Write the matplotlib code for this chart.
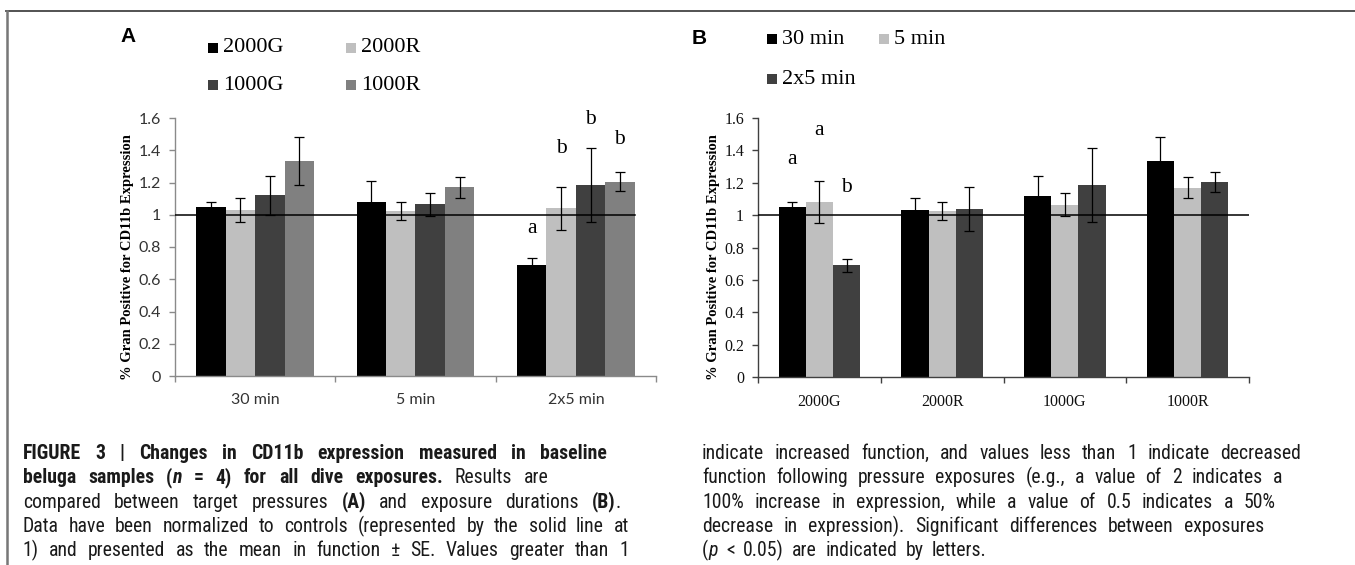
import numpy as np
import matplotlib
matplotlib.use('Agg')
import matplotlib.pyplot as plt
from matplotlib import font_manager
from matplotlib.lines import Line2D
from matplotlib.patches import Rectangle

# groups
pressures = ['2000G', '2000R', '1000G', '1000R']
durations = ['30 min', '5 min', '2x5 min']

# mean in function (normalized to control), order = durations
mean_2000g = [1.05, 1.08, 0.69]
mean_2000r = [1.03, 1.025, 1.04]
mean_1000g = [1.12, 1.065, 1.185]
mean_1000r = [1.335, 1.17, 1.205]

# standard errors, same order
se_2000g = [0.03, 0.13, 0.04]
se_2000r = [0.075, 0.055, 0.135]
se_1000g = [0.12, 0.07, 0.23]
se_1000r = [0.15, 0.065, 0.06]

yticks = [0, 0.2, 0.4, 0.6, 0.8, 1, 1.2, 1.4, 1.6]

# significance letters: (group, series, letter, height)
letters_a = [(2, 0, 'a', 0.915), (2, 1, 'b', 1.41), (2, 2, 'b', 1.59), (2, 3, 'b', 1.466)]
letters_b = [(0, 0, 'a', 1.343), (0, 1, 'a', 1.52), (0, 2, 'b', 1.168)]

pressure_colors = ['#000000', '#bfbfbf', '#404040', '#808080']
duration_colors = ['#000000', '#bfbfbf', '#404040']

means = np.array([mean_2000g, mean_2000r, mean_1000g, mean_1000r])
ses = np.array([se_2000g, se_2000r, se_1000g, se_1000r])

W, H = 1355, 565
fig = plt.figure(figsize=(W / 100, H / 100), dpi=100)


def fx(x):
    return x / W


def fy(y):
    return 1 - y / H


ax_a = fig.add_axes([fx(175), fy(376), (656 - 175) / W, (376 - 118) / H])
ax_b = fig.add_axes([fx(758), fy(377), (1249 - 758) / W, (377 - 118) / H])

err_kw = dict(ecolor='black', elinewidth=0.9, capsize=3.3, capthick=0.9)

# panel A : groups = durations, series = pressures
w_a = 0.183
xa = np.arange(len(durations))
for i, p in enumerate(pressures):
    ax_a.bar(xa + (i - 1.5) * w_a, means[i], w_a, color=pressure_colors[i],
             yerr=ses[i], error_kw=err_kw, zorder=2)
ax_a.plot([-0.5, xa[-1] + 2 * w_a], [1, 1], color='black', lw=1.1, zorder=3)
for g, s, txt, yy in letters_a:
    ax_a.text(xa[g] + (s - 1.5) * w_a, yy, txt, ha='center', va='center',
              family='Liberation Serif', fontsize=15.5)

# panel B : groups = pressures, series = durations
w_b = 0.221
xb = np.arange(len(pressures))
for j, d in enumerate(durations):
    ax_b.bar(xb + (j - 1) * w_b, means[:, j], w_b, color=duration_colors[j],
             yerr=ses[:, j], error_kw=err_kw, zorder=2)
ax_b.axhline(1, color='black', lw=1.1, zorder=3)
for g, s, txt, yy in letters_b:
    ax_b.text(xb[g] + (s - 1) * w_b, yy, txt, ha='center', va='center',
              family='Liberation Serif', fontsize=15.5)


def style_axes(ax, labels, family, color, spine_color, size):
    n = len(labels)
    ax.set_xlim(-0.5, n - 0.5)
    ax.set_ylim(0, 1.6)
    for s in ['top', 'right']:
        ax.spines[s].set_visible(False)
    for s in ['left', 'bottom']:
        ax.spines[s].set_color(spine_color)
        ax.spines[s].set_linewidth(1.0)
    ax.set_yticks(yticks)
    ax.set_yticklabels(['%g' % v for v in yticks])
    ax.set_xticks(np.arange(n))
    ax.set_xticklabels(labels)
    ax.set_xticks(np.arange(-0.5, n), minor=True)
    ax.tick_params(axis='x', which='major', length=0, pad=12)
    ax.tick_params(axis='x', which='minor', length=4, width=1.0, color=spine_color, direction='out')
    ax.tick_params(axis='y', length=4, width=1.0, color=spine_color, direction='out', pad=6)
    for t in ax.get_xticklabels() + ax.get_yticklabels():
        t.set_fontfamily(family)
        t.set_fontsize(size)
        t.set_color(color)


style_axes(ax_a, durations, 'Lato', '#333333', '#8a8a8a', 11.5)
style_axes(ax_b, pressures, 'Liberation Serif', '#111111', '#404040', 11.5)

ylab = '% Gran Positive for CD11b Expression'
fig.text(fx(128), fy(257), ylab, rotation=90, ha='center', va='center',
         family='Liberation Serif', weight='bold', fontsize=10.5)
fig.text(fx(713), fy(257), ylab, rotation=90, ha='center', va='center',
         family='Liberation Serif', weight='bold', fontsize=10.5)

# panel letters
fig.text(fx(120), fy(37), 'A', ha='left', va='center', family='Liberation Sans',
         weight='bold', fontsize=15)
fig.text(fx(692), fy(38), 'B', ha='left', va='center', family='Liberation Sans',
         weight='bold', fontsize=15)


def legend_entry(x, y, color, label):
    fig.add_artist(Rectangle((fx(x), fy(y + 5)), 10 / W, 10 / H, transform=fig.transFigure,
                             facecolor=color, edgecolor='none'))
    fig.text(fx(x + 15), fy(y), label, ha='left', va='center',
             family='Liberation Serif', fontsize=16)


for i, p in enumerate(pressures):
    legend_entry([208, 346][i % 2], [48, 85][i // 2], pressure_colors[i], p)
for j, d in enumerate(durations):
    legend_entry([767, 879][j % 2], [39, 79][j // 2], duration_colors[j], d)

# frame
fig.add_artist(Line2D([fx(6), 1], [fy(11), fy(11)], transform=fig.transFigure,
                      color='#444444', lw=1.3))
fig.add_artist(Line2D([fx(7), fx(7)], [fy(11), 0], transform=fig.transFigure,
                      color='#777777', lw=1.8))

# caption font: a narrow sans if one is installed
def weight_num(w):
    if isinstance(w, (int, float)):
        return w
    return font_manager.weight_dict.get(w, 400)


cond = [f for f in font_manager.fontManager.ttflist
        if (f.stretch in ('condensed', 'semi-condensed', 'extra-condensed')
            or 'Narrow' in f.name or 'Condensed' in f.name)
        and 'Mono' not in f.name and 'Serif' not in f.name]
cond_names = sorted({f.name for f in cond})
cond_family = None
for pref in ['Liberation Sans Narrow', 'Roboto Condensed', 'Open Sans Condensed',
             'Noto Sans Condensed', 'DejaVu Sans Condensed', 'DejaVu Sans']:
    if pref in cond_names:
        cond_family = pref
        break
if cond_family is None and cond_names:
    cond_family = cond_names[0]
fam_entries = [f for f in cond if f.name == cond_family]


def cap_props(weight, style, fs):
    if fam_entries:
        bold = weight == 'bold'
        italic = style == 'italic'
        best, score = None, 1e9
        for f in fam_entries:
            s = abs(weight_num(f.weight) - (700 if bold else 400))
            s += 0 if (f.style != 'normal') == italic else 500
            if s < score:
                best, score = f.fname, s
        return font_manager.FontProperties(fname=best, size=fs)
    return font_manager.FontProperties(family='Liberation Sans', weight=weight,
                                       style=style, size=fs)


cap_left = [
    [('FIGURE 3 | Changes in CD11b expression measured in baseline', 'bold', 'normal')],
    [('beluga samples (', 'bold', 'normal'), ('n', 'bold', 'italic'),
     (' = 4) for all dive exposures.', 'bold', 'normal'), (' Results are', 'normal', 'normal')],
    [('compared between target pressures ', 'normal', 'normal'), ('(A)', 'bold', 'normal'),
     (' and exposure durations ', 'normal', 'normal'), ('(B)', 'bold', 'normal'), ('.', 'normal', 'normal')],
    [('Data have been normalized to controls (represented by the solid line at', 'normal', 'normal')],
    [('1) and presented as the mean in function \u00b1 SE. Values greater than 1', 'normal', 'normal')],
]
cap_right = [
    [('indicate increased function, and values less than 1 indicate decreased', 'normal', 'normal')],
    [('function following pressure exposures (e.g., a value of 2 indicates a', 'normal', 'normal')],
    [('100% increase in expression, while a value of 0.5 indicates a 50%', 'normal', 'normal')],
    [('decrease in expression). Significant differences between exposures', 'normal', 'normal')],
    [('(', 'normal', 'normal'), ('p', 'normal', 'italic'), (' < 0.05) are indicated by letters.', 'normal', 'normal')],
]
right_left = [607, 549, 621, 629, 629]
right_right = [1301, 1282, 1276, 1264, None]
baselines = [458.6, 483, 507.5, 532, 556.5]

renderer = fig.canvas.get_renderer()


def split_pieces(segments):
    pieces = []
    pending = False
    for text, weight, style in segments:
        words = text.split(' ')
        first = True
        for k, wd in enumerate(words):
            if wd == '':
                continue
            space = (k > 0) or (first and (text.startswith(' ') or pending))
            pieces.append((wd, weight, style, space))
            first = False
        pending = text.endswith(' ')
    return pieces


def word_width(wd, weight, style, fs):
    t = fig.text(0, 0, wd, fontproperties=cap_props(weight, style, fs))
    w = t.get_window_extent(renderer).width
    t.remove()
    return w


base_fs = 14.2
# shrink if the words do not fit
factor = 1.0
for lines, x0, rights in [(cap_left, 22.7, right_left), (cap_right, 702, right_right)]:
    for segs, x1 in zip(lines, rights):
        if x1 is None:
            continue
        pcs = split_pieces(segs)
        tot = sum(word_width(p[0], p[1], p[2], base_fs) for p in pcs)
        nsp = sum(1 for p in pcs if p[3])
        need = tot + nsp * 0.22 * base_fs * 100 / 72
        factor = min(factor, (x1 - x0) / need)
cap_fs = base_fs * factor


def draw_line(segs, x0, x1, y):
    pcs = split_pieces(segs)
    widths = [word_width(p[0], p[1], p[2], cap_fs) for p in pcs]
    nsp = sum(1 for p in pcs if p[3])
    if x1 is None or nsp == 0:
        gap = 0.42 * cap_fs * 100 / 72
    else:
        gap = (x1 - x0 - sum(widths)) / nsp
    x = x0
    for (wd, weight, style, space), w in zip(pcs, widths):
        if space:
            x += gap
        fig.text(fx(x), fy(y), wd, fontproperties=cap_props(weight, style, cap_fs),
                 ha='left', va='baseline', color='#1a1a1a')
        x += w


for segs, x1, y in zip(cap_left, right_left, baselines):
    draw_line(segs, 22.7, x1, y)
for segs, x1, y in zip(cap_right, right_right, baselines):
    draw_line(segs, 702, x1, y)

fig.savefig('out.png', dpi=100)
